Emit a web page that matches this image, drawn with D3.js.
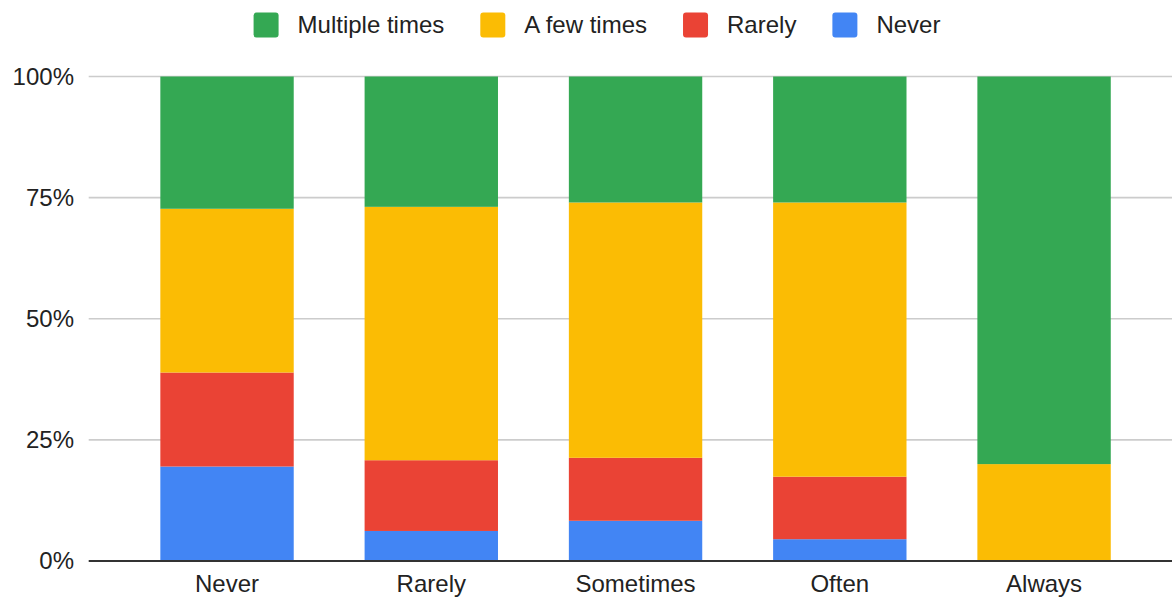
<!DOCTYPE html>
<html><head><meta charset="utf-8">
<script src="https://cdn.jsdelivr.net/npm/d3@7"></script>
<style>html,body{margin:0;padding:0;background:#fff;}svg{display:block;font-family:"Liberation Sans",Arial,sans-serif;}</style>
</head><body>
<svg id="chart" width="1172" height="598"></svg>
<script>
const categories = ["Never", "Rarely", "Sometimes", "Often", "Always"];
const seriesNames = ["Never", "Rarely", "A few times", "Multiple times"];
const legendOrder = ["Multiple times", "A few times", "Rarely", "Never"];
const neverVals = [19.5, 6.2, 8.3, 4.5, 0];
const rarelyVals = [19.4, 14.6, 13.0, 12.9, 0];
const fewVals = [33.8, 52.3, 52.7, 56.6, 20.0];
const multipleVals = [27.3, 26.9, 26.0, 26.0, 80.0];
const yTicks = [0, 0.25, 0.5, 0.75, 1];
const colors = {"Never":"#4285F4","Rarely":"#EA4335","A few times":"#FBBC04","Multiple times":"#34A853"};

const valuesBySeries = {"Never":neverVals,"Rarely":rarelyVals,"A few times":fewVals,"Multiple times":multipleVals};
const rows = categories.map((c,i)=>{
  const r={cat:c}; let tot=0;
  seriesNames.forEach(s=>{tot+=valuesBySeries[s][i];});
  seriesNames.forEach(s=>{r[s]=valuesBySeries[s][i]/tot;});
  return r;
});
const stacked = d3.stack().keys(seriesNames)(rows);

const svg = d3.select("#chart");
const fs = 24;
const plotLeft = 88.7, plotRight = 1172;
const y = d3.scaleLinear().domain([0,1]).range([561,76.5]);
const x = d3.scaleBand().domain(categories).range([124.9,1146.2]).paddingInner(0.347).paddingOuter(0.1735);

// gridlines
svg.append("g").selectAll("line").data(yTicks.filter(t=>t>0)).join("line")
  .attr("x1",plotLeft).attr("x2",plotRight)
  .attr("y1",d=>y(d)).attr("y2",d=>y(d))
  .attr("stroke","#cccccc").attr("stroke-width",1.7);

// y labels
svg.append("g").selectAll("text").data(yTicks).join("text")
  .attr("x",74).attr("y",d=>y(d)).attr("dy","0.35em")
  .attr("text-anchor","end").attr("font-size",fs).attr("fill","#222")
  .text(d=>d3.format(".0%")(d));

// bars
svg.append("g").selectAll("g").data(stacked).join("g")
  .attr("fill",d=>colors[d.key])
  .selectAll("rect").data(d=>d).join("rect")
  .attr("x",d=>x(d.data.cat)).attr("width",x.bandwidth())
  .attr("y",d=>y(d[1])).attr("height",d=>Math.max(0,y(d[0])-y(d[1])));

// baseline
svg.append("line").attr("x1",plotLeft).attr("x2",plotRight)
  .attr("y1",y(0)).attr("y2",y(0)).attr("stroke","#333").attr("stroke-width",2);

// x labels
svg.append("g").selectAll("text").data(categories).join("text")
  .attr("x",d=>x(d)+x.bandwidth()/2).attr("y",592)
  .attr("text-anchor","middle").attr("font-size",fs).attr("fill","#222")
  .text(d=>d);

// legend
const lg = svg.append("g");
const sq = 25, gapText = 19, gapItem = 36;
let cx = 0;
const items = [];
legendOrder.forEach(name=>{
  const g = lg.append("g");
  g.append("rect").attr("x",cx).attr("y",12.5).attr("width",sq).attr("height",sq).attr("rx",3).attr("fill",colors[name]);
  const t = g.append("text").attr("x",cx+sq+gapText).attr("y",25).attr("dy","0.35em").attr("font-size",fs).attr("fill","#222").text(name);
  const w = t.node().getComputedTextLength();
  cx += sq+gapText+w+gapItem;
});
const totalW = cx-gapItem;
lg.attr("transform",`translate(${597-totalW/2},0)`);
</script>
</body></html>
